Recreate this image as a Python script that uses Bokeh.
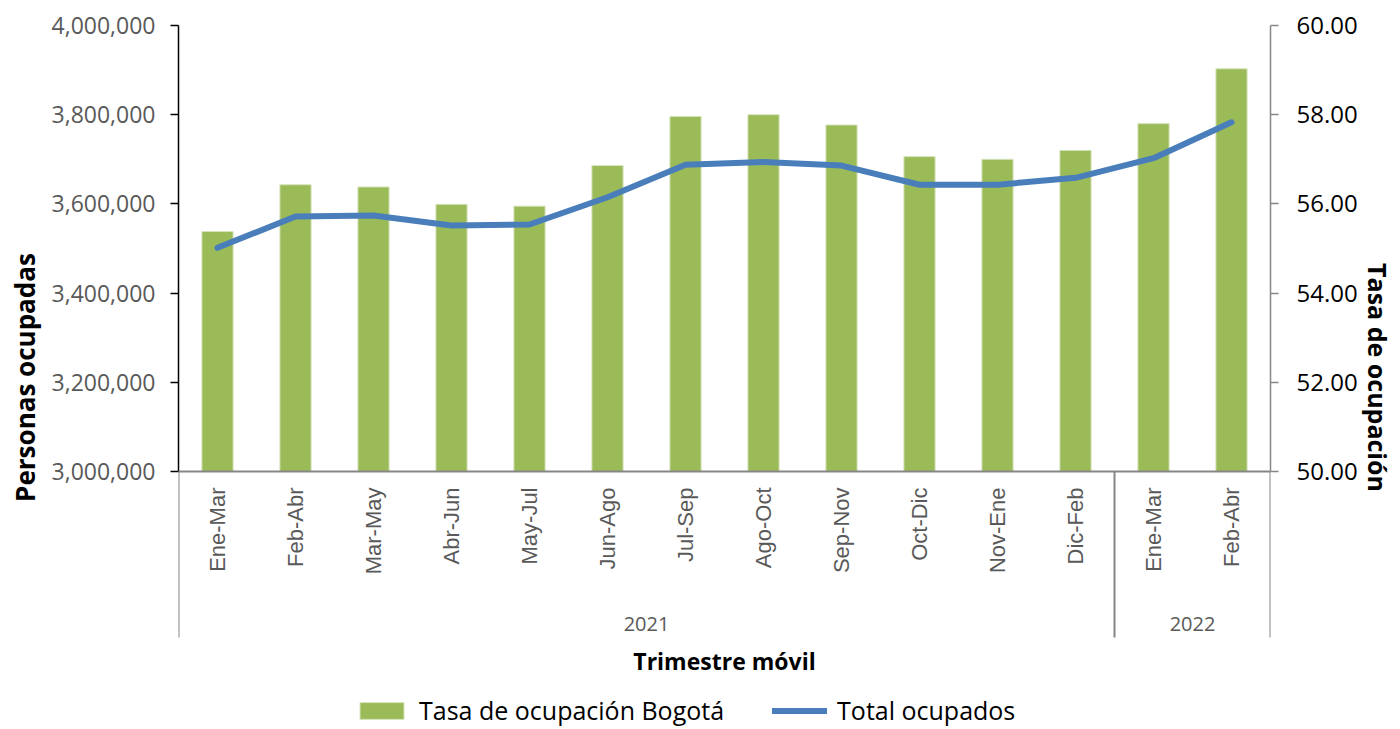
import math
from bokeh.plotting import figure
from bokeh.models import (FactorRange, Range1d, LinearAxis, FixedTicker, NumeralTickFormatter,
                          Legend, LegendItem, ColumnDataSource, Span)
from bokeh.core.properties import value
from bokeh.embed import file_html
from bokeh.resources import INLINE

years = ["2021"] * 12 + ["2022"] * 2
periods = ["Ene-Mar", "Feb-Abr", "Mar-May", "Abr-Jun", "May-Jul", "Jun-Ago", "Jul-Sep",
           "Ago-Oct", "Sep-Nov", "Oct-Dic", "Nov-Ene", "Dic-Feb", "Ene-Mar", "Feb-Abr"]
tasa = [55.38, 56.43, 56.38, 55.99, 55.95, 56.86, 57.96, 58.00, 57.77, 57.06, 57.00, 57.20, 57.80, 59.03]
ocupados = [3501600, 3571700, 3574000, 3551600, 3553800, 3615000, 3688000,
            3694000, 3686000, 3643000, 3643000, 3658500, 3702500, 3783000]
left_ticks = [3000000, 3200000, 3400000, 3600000, 3800000, 4000000]
right_ticks = [50, 52, 54, 56, 58, 60]
x_title = "Trimestre móvil"

factors = list(zip(years, periods))
group_names = sorted(set(years))
edges = [0]
for g in group_names:
    edges.append(edges[-1] + years.count(g))
group_centers = [(edges[i] + edges[i + 1]) / 2 for i in range(len(group_names))]

FONT = "Open Sans"
TICK_FONT = "Liberation Sans"
GREY_TXT = "#595959"
GREY_LINE = "#868686"

# layout (px): main plotting band 446 tall, category band 166, then title + legend
W, H = 1400, 729
TOP, LEFT, RIGHT = 25, 178, 130
MAIN_PX, CAT_PX = 446, 166
EXT_PX = H - TOP - MAIN_PX          # everything drawn below the value axes
span_l = left_ticks[-1] - left_ticks[0]
span_r = right_ticks[-1] - right_ticks[0]
y_lo = left_ticks[0] - span_l * EXT_PX / MAIN_PX
r_lo = right_ticks[0] - span_r * EXT_PX / MAIN_PX
y_sep_end = left_ticks[0] - span_l * CAT_PX / MAIN_PX

src = ColumnDataSource(dict(x=factors, tasa=tasa, ocupados=ocupados,
                            period=periods, base=[left_ticks[0]] * len(periods)))

p = figure(x_range=FactorRange(*factors, group_padding=0, factor_padding=0, range_padding=0),
           y_range=Range1d(y_lo, left_ticks[-1]),
           width=W, height=H, output_backend="svg", toolbar_location=None,
           min_border_left=LEFT, min_border_right=RIGHT, min_border_top=TOP, min_border_bottom=0)
p.outline_line_color = None
p.grid.visible = False
p.xaxis.visible = False
p.extra_y_ranges = {"tasa": Range1d(r_lo, right_ticks[-1])}

bars = p.vbar(x="x", top="tasa", bottom=right_ticks[0], width=0.4, source=src, y_range_name="tasa",
              fill_color="#9BBB59", line_color="#D7E4BD", line_width=1)
line = p.line(x="x", y="ocupados", source=src, line_color="#4A7EBB", line_width=6,
              line_join="round", line_cap="round")

# category axis line and group separators
p.add_layout(Span(location=left_ticks[0], dimension="width", line_color=GREY_LINE, line_width=2))
p.segment(x0=edges, y0=[left_ticks[0]] * len(edges), x1=edges, y1=[y_sep_end] * len(edges),
          line_color=GREY_LINE, line_width=2)

# category labels (rotated), year labels, axis title
p.text(x="x", y="base", text="period", source=src, angle=math.pi / 2,
       text_align="right", text_baseline="middle", y_offset=16,
       text_font=value(TICK_FONT), text_font_size=value("22px"), text_color=GREY_TXT)
p.text(x=group_centers, y=[left_ticks[0]] * len(group_names), text=group_names,
       text_align="center", text_baseline="middle", y_offset=152,
       text_font=value(FONT), text_font_size=value("20px"), text_color=GREY_TXT)
p.text(x=[edges[-1] / 2], y=[left_ticks[0]], text=[x_title],
       text_align="center", text_baseline="middle", y_offset=189,
       text_font=value(FONT), text_font_size=value("23px"), text_font_style="bold",
       text_color="black")

# left axis
ya = p.yaxis[0]
ya.bounds = (left_ticks[0], left_ticks[-1])
ya.ticker = FixedTicker(ticks=left_ticks)
ya.formatter = NumeralTickFormatter(format="0,0")
ya.minor_tick_line_color = None
ya.axis_line_color = "black"
ya.major_tick_line_color = "black"
ya.axis_line_width = 1.5
ya.major_tick_line_width = 1.5
ya.major_tick_out = 8
ya.major_tick_in = 0
ya.major_label_text_font = FONT
ya.major_label_text_font_size = "23px"
ya.major_label_text_color = GREY_TXT
ya.major_label_standoff = 15
ya.axis_label = "Personas ocupadas"
ya.axis_label_text_font = FONT
ya.axis_label_text_font_size = "26px"
ya.axis_label_text_font_style = "bold"
ya.axis_label_text_color = "black"
ya.axis_label_standoff = 6

# right axis
ra = LinearAxis(y_range_name="tasa", ticker=FixedTicker(ticks=right_ticks),
                formatter=NumeralTickFormatter(format="0.00"), axis_label="Tasa de ocupación",
                bounds=(right_ticks[0], right_ticks[-1]))
ra.minor_tick_line_color = None
ra.axis_line_color = GREY_LINE
ra.major_tick_line_color = GREY_LINE
ra.axis_line_width = 1.5
ra.major_tick_line_width = 1.5
ra.major_tick_out = 8
ra.major_tick_in = 0
ra.major_label_text_font = FONT
ra.major_label_text_font_size = "24px"
ra.major_label_text_color = "black"
ra.major_label_standoff = 18
ra.axis_label_text_font = FONT
ra.axis_label_text_font_size = "25px"
ra.axis_label_text_font_style = "bold"
ra.axis_label_text_color = "black"
ra.axis_label_standoff = 0
p.add_layout(ra, "right")

legend = Legend(items=[LegendItem(label="Tasa de ocupación Bogotá", renderers=[bars]),
                       LegendItem(label="Total ocupados", renderers=[line])],
                orientation="horizontal", location=(176, 2))
legend.border_line_color = None
legend.background_fill_alpha = 0
legend.label_text_font = FONT
legend.label_text_font_size = "25px"
legend.label_text_color = "black"
legend.glyph_width = 55
legend.glyph_height = 21
legend.spacing = 48
legend.label_standoff = 10
legend.margin = 0
legend.padding = 2
p.add_layout(legend, "center")

open("out.html", "w").write(file_html(p, INLINE))
